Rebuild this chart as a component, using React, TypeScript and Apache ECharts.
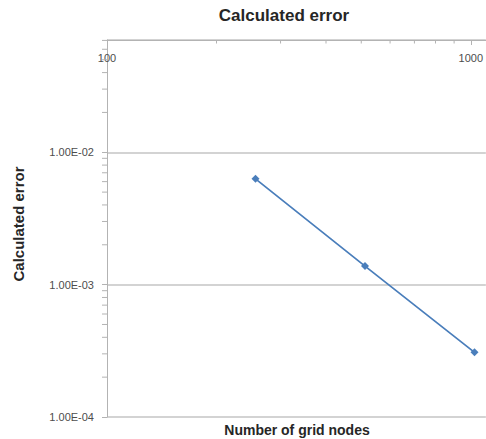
import React, { useEffect, useRef } from 'react';
import * as echarts from 'echarts';

// ---- data ----
const gridNodes = [256, 512, 1024];
const calculatedError = [0.0063, 0.00138, 0.000308];
const xMinorTicks = [200, 300, 400, 500, 600, 700, 800, 900];
const yMinorTicks = [
  2e-4, 3e-4, 4e-4, 5e-4, 6e-4, 7e-4, 8e-4, 9e-4,
  2e-3, 3e-3, 4e-3, 5e-3, 6e-3, 7e-3, 8e-3, 9e-3,
  2e-2, 3e-2, 4e-2, 5e-2, 6e-2, 7e-2,
];
const xRange = [100, 1100];
const yRange = [1e-4, 0.0705];
const chartTitle = 'Calculated error';
const xAxisTitle = 'Number of grid nodes';
const yAxisTitle = 'Calculated error';

const fmtSci = (v: number) => {
  const [m, e] = v.toExponential(2).split('e');
  const n = parseInt(e, 10);
  return `${m}E${n < 0 ? '-' : '+'}${String(Math.abs(n)).padStart(2, '0')}`;
};

const AXIS_COLOR = '#b3b3b3';
const GRID_COLOR = '#c4c4c4';
const LINE_COLOR = '#4a7ebb';

export default function App() {
  const ref = useRef<HTMLDivElement>(null);
  useEffect(() => {
    if (!ref.current) return;
    const chart = echarts.init(ref.current, undefined, { renderer: 'svg' });
    chart.setOption({
      animation: false,
      backgroundColor: '#ffffff',
      grid: { left: 107, top: 40, right: 0, bottom: 22, containLabel: false },
      xAxis: {
        type: 'log',
        logBase: 10,
        position: 'top',
        min: xRange[0],
        max: xRange[1],
        axisLine: { show: true, lineStyle: { color: AXIS_COLOR, width: 1 } },
        axisTick: { show: true, inside: true, length: 5, lineStyle: { color: AXIS_COLOR } },
        axisLabel: {
          inside: true,
          margin: 12,
          showMaxLabel: false,
          fontFamily: 'Liberation Sans',
          fontSize: 11,
          color: '#4d4d4d',
          formatter: (v: number) => String(Math.round(v)),
        },
        splitLine: { show: false },
      },
      yAxis: {
        type: 'log',
        logBase: 10,
        min: yRange[0],
        max: yRange[1],
        axisLine: { show: true, lineStyle: { color: AXIS_COLOR, width: 1 } },
        axisTick: { show: true, inside: false, length: 5, lineStyle: { color: AXIS_COLOR } },
        axisLabel: {
          margin: 13,
          showMaxLabel: false,
          fontFamily: 'Liberation Sans',
          fontSize: 11,
          color: '#4d4d4d',
          formatter: (v: number) => fmtSci(v),
        },
        splitLine: { show: true, lineStyle: { color: GRID_COLOR, width: 1.5 } },
      },
      graphic: [
        {
          type: 'text',
          x: 284,
          y: 15,
          style: {
            text: chartTitle,
            fontFamily: 'Liberation Sans',
            fontWeight: 'bold',
            fontSize: 17,
            fill: '#262626',
            textAlign: 'center',
            textVerticalAlign: 'middle',
          },
        },
        {
          type: 'text',
          x: 297,
          y: 430,
          style: {
            text: xAxisTitle,
            fontFamily: 'Liberation Sans',
            fontWeight: 'bold',
            fontSize: 14,
            fill: '#262626',
            textAlign: 'center',
            textVerticalAlign: 'middle',
          },
        },
        {
          type: 'text',
          x: 18,
          y: 224,
          rotation: Math.PI / 2,
          style: {
            text: yAxisTitle,
            fontFamily: 'Liberation Sans',
            fontWeight: 'bold',
            fontSize: 15,
            fill: '#262626',
            textAlign: 'center',
            textVerticalAlign: 'middle',
          },
        },
      ],
      series: [
        {
          type: 'custom',
          silent: true,
          clip: false,
          data: xMinorTicks.map((v) => [v, yRange[1]]),
          renderItem: (_params: any, api: any) => {
            const p = api.coord([api.value(0), api.value(1)]);
            return {
              type: 'line',
              shape: { x1: p[0], y1: p[1], x2: p[0], y2: p[1] + 3.5 },
              style: { stroke: AXIS_COLOR, lineWidth: 1 },
            };
          },
          z: 1,
        },
        {
          type: 'custom',
          silent: true,
          clip: false,
          data: yMinorTicks.map((v) => [xRange[0], v]),
          renderItem: (_params: any, api: any) => {
            const p = api.coord([api.value(0), api.value(1)]);
            return {
              type: 'line',
              shape: { x1: p[0] - 5, y1: p[1], x2: p[0], y2: p[1] },
              style: { stroke: AXIS_COLOR, lineWidth: 1 },
            };
          },
          z: 1,
        },
        {
          type: 'line',
          data: gridNodes.map((x, i) => [x, calculatedError[i]]),
          symbol: 'diamond',
          symbolSize: 8,
          lineStyle: { color: LINE_COLOR, width: 1.75 },
          itemStyle: { color: LINE_COLOR },
          z: 3,
        },
      ],
    });
    return () => chart.dispose();
  }, []);
  return (
    <div
      ref={ref}
      style={{ position: 'fixed', left: 0, top: 0, width: 486, height: 439, background: '#fff' }}
    />
  );
}
